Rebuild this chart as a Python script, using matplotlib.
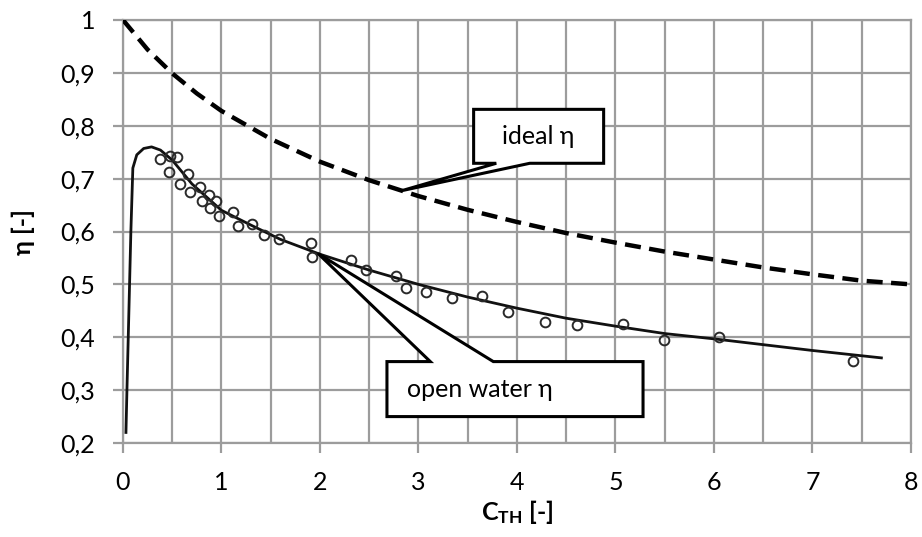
import numpy as np
import matplotlib
matplotlib.use("Agg")
import matplotlib.pyplot as plt
from matplotlib.patches import Polygon

plt.rcParams["font.family"] = ["Lato", "DejaVu Sans"]
plt.rcParams["mathtext.fontset"] = "custom"
plt.rcParams["mathtext.rm"] = "Lato"
plt.rcParams["mathtext.bf"] = "Lato:bold"

# ideale Wirkungsgradkurve
ct_ideal = [0, 0.25, 0.5, 0.75, 1, 1.5, 2, 2.5, 3, 3.5, 4, 4.5, 5, 5.5, 6, 6.5, 7, 7.5, 8]
eta_ideal = [1.0, 0.944, 0.899, 0.861, 0.828, 0.775, 0.732, 0.697, 0.667, 0.641,
             0.618, 0.597, 0.579, 0.562, 0.547, 0.532, 0.519, 0.507, 0.5]

# Freifahrtkurve (Ausgleichslinie)
ct_fit = [0.03, 0.04, 0.06, 0.08, 0.10, 0.14, 0.21, 0.29, 0.38, 0.5, 0.7, 1.0, 1.3, 1.6,
          2.0, 2.5, 3.0, 3.5, 4.0, 4.5, 5.0, 5.5, 6.0, 6.5, 7.0, 7.7]
eta_fit = [0.22, 0.30, 0.45, 0.60, 0.72, 0.745, 0.757, 0.76, 0.754, 0.735, 0.69, 0.64,
           0.612, 0.585, 0.557, 0.527, 0.500, 0.476, 0.455, 0.436, 0.421, 0.407,
           0.397, 0.386, 0.375, 0.361]

# Messpunkte
ct_meas = [0.38, 0.48, 0.55, 0.47, 0.66, 0.58, 0.68, 0.78, 0.80, 0.87, 0.94, 0.88, 0.97,
           1.12, 1.17, 1.31, 1.43, 1.58, 1.91, 1.92, 2.31, 2.47, 2.77, 2.87, 3.08, 3.34,
           3.64, 3.91, 4.28, 4.61, 5.08, 5.49, 6.05, 7.41]
eta_meas = [0.738, 0.743, 0.741, 0.713, 0.708, 0.689, 0.675, 0.684, 0.658, 0.669, 0.658,
            0.644, 0.629, 0.637, 0.611, 0.614, 0.593, 0.586, 0.578, 0.552, 0.547, 0.527,
            0.515, 0.494, 0.486, 0.474, 0.478, 0.448, 0.429, 0.423, 0.426, 0.395, 0.401,
            0.356]

fig = plt.figure(figsize=(9.22, 5.37), dpi=100)
ax = fig.add_axes([0.1334, 0.175, 0.988 - 0.1334, 0.9628 - 0.175])

grid_col = "#9c9c9c"
ax.set_xlim(0, 8)
ax.set_ylim(0.2, 1.0)
ax.set_xticks(np.arange(0, 8.01, 1))
ax.set_xticks(np.arange(0, 8.01, 0.5), minor=True)
ax.set_yticks(np.arange(0.2, 1.001, 0.1))
ax.set_yticklabels(["0,2", "0,3", "0,4", "0,5", "0,6", "0,7", "0,8", "0,9", "1"])
ax.grid(True, which="both", color=grid_col, linewidth=1.6)
ax.set_axisbelow(True)
for s in ax.spines.values():
    s.set_color(grid_col)
    s.set_linewidth(1.6)
ax.tick_params(axis="both", which="major", direction="out", length=7, width=1.6,
               color=grid_col, labelsize=18)
ax.tick_params(axis="y", which="major", pad=13)
ax.tick_params(axis="x", which="major", pad=13)
ax.tick_params(axis="x", which="minor", length=0)

ax.plot(ct_ideal, eta_ideal, color="black", linewidth=3.2, linestyle=(0, (3.6, 1.9)),
        zorder=3)
ax.plot(ct_fit, eta_fit, color="#111111", linewidth=2.0, zorder=3)
ax.plot(ct_meas, eta_meas, linestyle="none", marker="o", markersize=7,
        markerfacecolor="none", markeredgecolor="#2a2a2a", markeredgewidth=1.4, zorder=3)

ax.set_xlabel(r"$\mathbf{C_{TH}}$ [-]", fontsize=18, fontweight="bold")
ax.set_ylabel("η [-]", fontsize=18, fontweight="bold")
ax.xaxis.set_label_coords(0.5, -0.13)
ax.yaxis.set_label_coords(-0.112, 0.5)


def callout(x0, x1, y0, y1, b0, b1, tip, text, tx, ha):
    # Rechteckige Legende mit Keil zur Kurve
    if tip[1] < y0:
        pts = [(x0, y1), (x1, y1), (x1, y0), (b1, y0), tip, (b0, y0), (x0, y0)]
    else:
        pts = [(x0, y0), (x1, y0), (x1, y1), (b1, y1), tip, (b0, y1), (x0, y1)]
    ax.add_patch(Polygon(pts, closed=True, facecolor="white", edgecolor="black",
                         linewidth=2.2, joinstyle="miter", zorder=5))
    ax.text(tx, (y0 + y1) / 2, text, ha=ha, va="center", fontsize=18, zorder=6)


tip_ideal = (2.83, np.interp(2.83, ct_ideal, eta_ideal))
callout(3.56, 4.88, 0.729, 0.831, 3.79, 4.13, tip_ideal, "ideal η", 4.22, "center")

tip_ow = (1.98, np.interp(1.98, ct_fit, eta_fit))
callout(2.68, 5.28, 0.250, 0.354, 3.12, 3.76, tip_ow, "open water η", 2.88, "left")

fig.savefig("out.png", dpi=100)
